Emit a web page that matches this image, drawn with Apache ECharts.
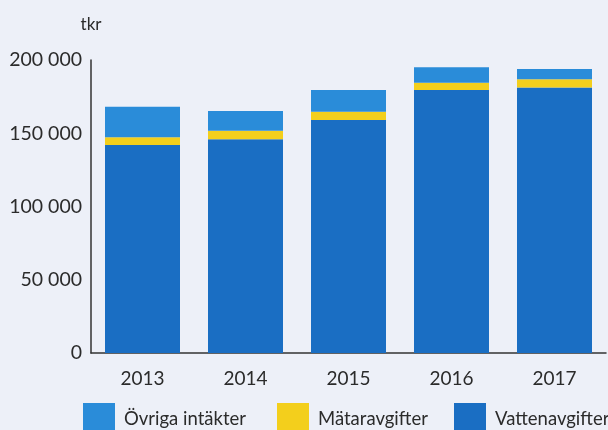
<!DOCTYPE html>
<html>
<head>
<meta charset="utf-8">
<script src="https://cdn.jsdelivr.net/npm/echarts@6/dist/echarts.min.js"></script>
<style>
  html, body { margin: 0; padding: 0; background: #edf0f8; }
  #chart { width: 608px; height: 430px; }
</style>
</head>
<body>
<div id="chart"></div>
<script>
const years = ['2013', '2014', '2015', '2016', '2017']
const vattenavgifter = [142000, 145900, 159000, 179500, 181300]
const mataravgifter = [5200, 5800, 5700, 5000, 5500]
const ovrigaIntakter = [20900, 13500, 14800, 10500, 7100]

const font = 'Lato'
const textColor = '#2b2b2b'

const chart = echarts.init(document.getElementById('chart'))

// legend is split in three so each item sits where it does in the print
const legendItem = (name, left) => ({
  data: [name],
  left: left,
  top: 398,
  itemWidth: 32,
  itemHeight: 32,
  icon: 'rect',
  itemGap: 0,
  textStyle: { color: textColor, fontSize: 18.5, fontFamily: font, padding: [0, 0, 0, 4] }
})

chart.setOption({
  backgroundColor: '#edf0f8',
  animation: false,
  grid: { left: 91, right: 2, top: 60, bottom: 77 },
  legend: [
    legendItem('Övriga intäkter', 78),
    legendItem('Mätaravgifter', 272),
    legendItem('Vattenavgifter', 449)
  ],
  xAxis: {
    type: 'category',
    data: years,
    axisLine: { lineStyle: { color: '#333', width: 1.5 } },
    axisTick: { show: false },
    axisLabel: { color: textColor, fontSize: 19, fontFamily: font, margin: 16 }
  },
  yAxis: {
    type: 'value',
    min: 0,
    max: 200000,
    interval: 50000,
    name: 'tkr',
    nameGap: 27,
    nameTextStyle: { color: textColor, fontSize: 17, fontFamily: font },
    axisLine: { show: true, lineStyle: { color: '#333', width: 1.5 } },
    axisTick: { show: false },
    splitLine: { show: false },
    axisLabel: {
      color: textColor,
      fontSize: 19.5,
      fontFamily: font,
      margin: 9,
      formatter: v => String(v).replace(/\B(?=(\d{3})+(?!\d))/g, ' ')
    }
  },
  series: [
    {
      name: 'Vattenavgifter',
      type: 'bar',
      stack: 'total',
      barWidth: 75,
      data: vattenavgifter,
      itemStyle: { color: '#1a6ec3' }
    },
    {
      name: 'Mätaravgifter',
      type: 'bar',
      stack: 'total',
      data: mataravgifter,
      itemStyle: { color: '#f3cf1c' }
    },
    {
      name: 'Övriga intäkter',
      type: 'bar',
      stack: 'total',
      data: ovrigaIntakter,
      itemStyle: { color: '#2a8cd9' }
    }
  ]
})
</script>
</body>
</html>
